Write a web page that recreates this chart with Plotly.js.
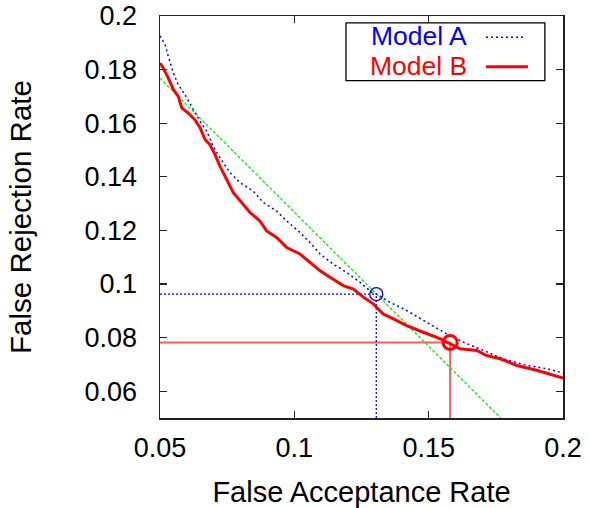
<!DOCTYPE html>
<html>
<head>
<meta charset="utf-8">
<script src="https://cdn.plot.ly/plotly-3.0.1.min.js"></script>
<style>html,body{margin:0;padding:0;background:#fff;}#chart{width:589px;height:508px;}</style>
</head>
<body>
<div id="chart"></div>
<script>
// Model A (blue dotted) curve: false acceptance rate vs false rejection rate
const modelA_far = [0.0500,0.0519,0.0531,0.0550,0.0568,0.0593,0.0624,0.0649,0.0674,0.0698,0.0723,0.0761,0.0798,0.0847,0.0885,0.0934,0.0972,0.1021,0.1058,0.1096,0.1145,0.1195,0.1245,0.1288,0.1307,0.1344,0.1418,0.1493,0.1567,0.1629,0.1704,0.1778,0.1865,0.1940,0.2000];
const modelA_frr = [0.1926,0.1892,0.1849,0.1787,0.1743,0.1706,0.1651,0.1607,0.1570,0.1514,0.1471,0.1415,0.1378,0.1347,0.1304,0.1272,0.1235,0.1192,0.1155,0.1112,0.1074,0.1043,0.1006,0.0969,0.0963,0.0938,0.0901,0.0858,0.0814,0.0783,0.0752,0.0721,0.0696,0.0684,0.0668];
// Model B (red solid) curve
const modelB_far = [0.0500,0.0512,0.0531,0.0550,0.0568,0.0581,0.0605,0.0630,0.0649,0.0668,0.0686,0.0705,0.0723,0.0748,0.0773,0.0804,0.0835,0.0872,0.0897,0.0934,0.0972,0.1021,0.1058,0.1096,0.1133,0.1182,0.1220,0.1257,0.1294,0.1331,0.1369,0.1418,0.1480,0.1542,0.1580,0.1617,0.1679,0.1716,0.1766,0.1828,0.1902,0.1964,0.2000];
const modelB_frr = [0.1824,0.1806,0.1768,0.1725,0.1700,0.1657,0.1638,0.1613,0.1583,0.1539,0.1520,0.1483,0.1440,0.1390,0.1341,0.1304,0.1267,0.1235,0.1198,0.1174,0.1136,0.1112,0.1081,0.1049,0.1025,0.0994,0.0981,0.0951,0.0926,0.0888,0.0870,0.0845,0.0820,0.0796,0.0777,0.0758,0.0752,0.0733,0.0721,0.0696,0.0678,0.0659,0.0649];
// Iso-cost (green) line
const costLine_far = [0.05, 0.18];
const costLine_frr = [0.1768, 0.0468];
// Operating points
const opA = [0.1305, 0.0962];
const opB = [0.158, 0.0782];
// Axis settings
const xRange = [0.05, 0.2];
const yRange = [0.05, 0.2];
const xTicks = [0.05, 0.1, 0.15, 0.2];
const xTickText = ['0.05', '0.1', '0.15', '0.2'];
const yTicks = [0.06, 0.08, 0.1, 0.12, 0.14, 0.16, 0.18, 0.2];
const yTickText = ['0.06', '0.08', '0.1', '0.12', '0.14', '0.16', '0.18', '0.2'];
const seriesNames = ['Model A', 'Model B'];

const font = 'Liberation Sans, Arial, sans-serif';

const traces = [
  // reference lines for operating point B
  {x: [xRange[0], opB[0]], y: [opB[1], opB[1]], mode: 'lines', line: {color: '#ff5a5a', width: 2}, showlegend: false, hoverinfo: 'skip'},
  {x: [opB[0], opB[0]], y: [yRange[0], opB[1]], mode: 'lines', line: {color: '#ff5a5a', width: 2}, showlegend: false, hoverinfo: 'skip'},
  // reference lines for operating point A
  {x: [xRange[0], opA[0]], y: [opA[1], opA[1]], mode: 'lines', line: {color: '#0000ff', width: 1.3, dash: '2px,2px'}, showlegend: false, hoverinfo: 'skip'},
  {x: [opA[0], opA[0]], y: [yRange[0], opA[1]], mode: 'lines', line: {color: '#0000ff', width: 1.3, dash: '2px,2px'}, showlegend: false, hoverinfo: 'skip'},
  // green iso-cost line
  {x: costLine_far, y: costLine_frr, mode: 'lines', line: {color: '#00ee00', width: 1.3, dash: '3px,2px'}, showlegend: false},
  // Model A
  {x: modelA_far, y: modelA_frr, mode: 'lines', name: seriesNames[0], line: {color: '#0000ff', width: 1.5, dash: '2px,3px'}, showlegend: false},
  // Model B
  {x: modelB_far, y: modelB_frr, mode: 'lines', name: seriesNames[1], line: {color: '#ff0000', width: 3}, showlegend: false},
  // operating point markers
  {x: [opA[0]], y: [opA[1]], mode: 'markers', marker: {symbol: 'circle-open', size: 13, color: '#0000ff', line: {width: 1.3, color: '#0000ff'}}, showlegend: false},
  {x: [opB[0]], y: [opB[1]], mode: 'markers', marker: {symbol: 'circle-open', size: 14, color: '#ff0000', line: {width: 3, color: '#ff0000'}}, showlegend: false}
];

// Custom legend (text left, sample right) in paper coordinates
const legX0 = 0.4615, legX1 = 0.955, legY0 = 0.839, legY1 = 0.983;
const layout = {
  width: 589, height: 508,
  margin: {l: 160, r: 26, t: 16, b: 90},
  paper_bgcolor: '#fff', plot_bgcolor: '#fff',
  font: {family: font, size: 27, color: '#000'},
  showlegend: false,
  xaxis: {
    range: xRange, tickvals: xTicks, ticktext: xTickText,
    ticks: 'inside', ticklen: 7, tickwidth: 1.3, tickcolor: '#222',
    showline: true, linecolor: '#222', linewidth: 1.5, mirror: 'ticks',
    showgrid: false, zeroline: false,
    ticklabelstandoff: 5,
    tickfont: {family: font, size: 27, color: '#000'},
    title: {text: 'False Acceptance Rate', font: {family: font, size: 29, color: '#000'}, standoff: 20}
  },
  yaxis: {
    range: yRange, tickvals: yTicks, ticktext: yTickText,
    ticks: 'inside', ticklen: 7, tickwidth: 1.3, tickcolor: '#222',
    showline: true, linecolor: '#222', linewidth: 1.5, mirror: 'ticks',
    showgrid: false, zeroline: false,
    ticklabelstandoff: 16,
    tickfont: {family: font, size: 27, color: '#000'},
    title: {text: 'False Rejection Rate', font: {family: font, size: 29.5, color: '#000'}, standoff: 44}
  },
  shapes: [
    {type: 'rect', xref: 'paper', yref: 'paper', x0: legX0, x1: legX1, y0: legY0, y1: legY1, line: {color: '#000', width: 1.3}, fillcolor: '#fff', layer: 'above'},
    {type: 'line', xref: 'paper', yref: 'paper', x0: 0.809, x1: 0.906, y0: 0.947, y1: 0.947, line: {color: '#0000ff', width: 1.5, dash: '2px,3px'}},
    {type: 'line', xref: 'paper', yref: 'paper', x0: 0.809, x1: 0.913, y0: 0.874, y1: 0.874, line: {color: '#ff0000', width: 3}}
  ],
  annotations: [
    {text: seriesNames[0], xref: 'paper', yref: 'paper', x: 0.765, y: 0.950, xanchor: 'right', yanchor: 'middle', showarrow: false, borderpad: 0, font: {family: font, size: 26.5, color: '#0000ff'}},
    {text: seriesNames[1], xref: 'paper', yref: 'paper', x: 0.765, y: 0.876, xanchor: 'right', yanchor: 'middle', showarrow: false, borderpad: 0, font: {family: font, size: 26.5, color: '#ff0000'}}
  ]
};

Plotly.newPlot('chart', traces, layout, {displayModeBar: false, staticPlot: true});
</script>
</body>
</html>
